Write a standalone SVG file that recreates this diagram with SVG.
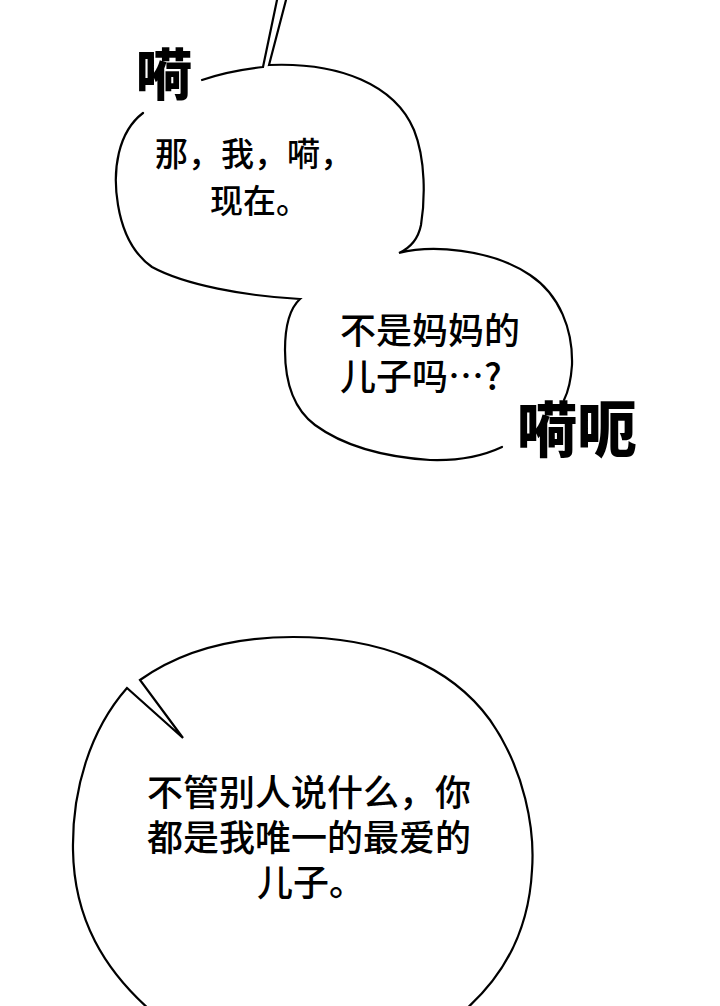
<svg xmlns="http://www.w3.org/2000/svg" width="720" height="1006" viewBox="0 0 720 1006">
<style>
.bg{fill:#ffffff}
.outline{fill:none;stroke:#000;stroke-width:2.2;stroke-linejoin:miter;stroke-linecap:round}
.t{font-family:"Noto Sans CJK SC","Noto Sans",sans-serif;font-weight:500;fill:#000}
.sfx{font-family:"Noto Sans CJK SC","Noto Sans",sans-serif;font-weight:900;fill:#000}
</style>
<rect class="bg" x="0" y="0" width="720" height="1006"/>
<g id="connectors">
<path class="outline" d="M202,80 C225,72 245,69 263,67 L277,0"/>
<path class="outline" d="M286,0 L269,65 C340,62 395,85 414,130 C426,160 425,200 421,225 C418,240 410,248 399,253 C430,245 490,248 530,275 C560,295 573,330 572,365 C571,380 568,392 564,400"/>
<path class="outline" d="M143,113 C118,132 112,170 118,205 C123,235 135,255 152,267 C185,285 245,296 300,299 C288,310 285,330 285,350 C285,385 295,410 315,425 C345,447 385,457 430,460 C460,461 485,455 502,447"/>
</g>
<g id="bubble1">
<text class="t" font-size="33"><tspan x="155" y="166">那，我，嗬，</tspan><tspan x="210" y="213">现在。</tspan></text>
</g>
<g id="sfx1">
<text class="sfx" x="136" y="95" font-size="56">嗬</text>
</g>
<g id="bubble2">
<text class="t" font-size="36"><tspan x="340" y="344">不是妈妈的</tspan><tspan x="340" y="390">儿子吗…?</tspan></text>
</g>
<g id="sfx2">
<text class="sfx" x="517" y="452" font-size="60">嗬呃</text>
</g>
<g id="bubble3">
<path class="outline" d="M150,1010 C105,970 74,920 73,850 C72,790 90,730 127,688 L183,738 L140,680 C185,648 240,637 293,637 C380,637 450,665 490,720 C525,770 535,830 532,870 C529,930 505,975 465,1010"/>
<text class="t" font-size="36"><tspan x="147" y="806">不管别人说什么，你</tspan><tspan x="147" y="851">都是我唯一的最爱的</tspan><tspan x="257" y="896">儿子。</tspan></text>
</g>
</svg>
